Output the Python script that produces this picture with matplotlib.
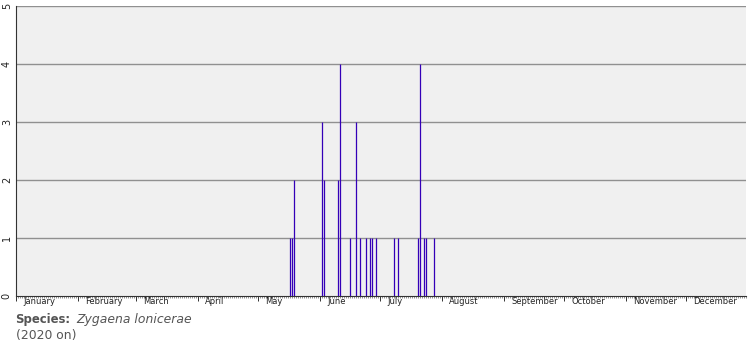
import numpy as np
from matplotlib import pyplot as plt
from matplotlib.ticker import MultipleLocator

# Records per day (day of year, 0 = 1 January 2020)
days = [137, 138, 139, 153, 154, 161, 162, 167, 170, 172, 175,
        177, 178, 180, 189, 191, 201, 202, 204, 205, 209]
counts = [1, 1, 2, 3, 2, 2, 4, 1, 3, 1, 1,
          1, 1, 1, 1, 1, 1, 4, 1, 1, 1]

months = ["January", "February", "March", "April", "May", "June",
          "July", "August", "September", "October", "November", "December"]
month_starts = [0, 31, 60, 91, 121, 152, 182, 213, 244, 274, 305, 335]

species = "Zygaena lonicerae"
period = "(2020 on)"

fig = plt.figure(figsize=(7.55, 3.5), dpi=100)
ax = fig.add_axes([16/755, 1-295.5/350, 730/755, 290/350])
ax.set_facecolor('#f0f0f0')

# bars
ax.vlines(days, 0, counts, color='#3400b8', lw=0.9, zorder=3)

ax.set_xlim(0, 365)
ax.set_ylim(0, 5)

# grid
for y in range(1, 6):
    ax.axhline(y, color='#909090', lw=1.0, zorder=1)

# spines
for s in ['top', 'right']:
    ax.spines[s].set_visible(False)
ax.spines['left'].set_color('#333333')
ax.spines['left'].set_linewidth(0.8)
ax.spines['bottom'].set_color('#333333')
ax.spines['bottom'].set_linewidth(0.8)

# x ticks: month starts, minor ticks every day
ax.set_xticks(month_starts)
ax.set_xticklabels([])
ax.xaxis.set_minor_locator(MultipleLocator(1))
ax.tick_params(axis='x', which='major', length=3.5, width=0.7, color='#333333')
ax.tick_params(axis='x', which='minor', length=1.2, width=0.5, color='#666666')
for m, d in zip(months, month_starts):
    ax.text(d + 3.5, -0.006, m, transform=ax.get_xaxis_transform(),
            ha='left', va='top', fontsize=6, color='#222222')

# y ticks
ax.set_yticks(range(0, 6))
ax.set_yticklabels([str(v) for v in range(0, 6)], rotation=90,
                   va='center', fontsize=7, color='#222222')
ax.tick_params(axis='y', length=0, pad=3)

# caption
fig.text(15/755, 1-320/350, "Species:", fontsize=8.4, fontweight='bold',
         color='#555555', ha='left', va='center')
fig.text(76/755, 1-320/350, species, fontsize=8.9, style='italic',
         color='#555555', ha='left', va='center')
fig.text(16/755, 1-335/350, period, fontsize=8.9,
         color='#555555', ha='left', va='center')

fig.savefig('out.png', dpi=100)
